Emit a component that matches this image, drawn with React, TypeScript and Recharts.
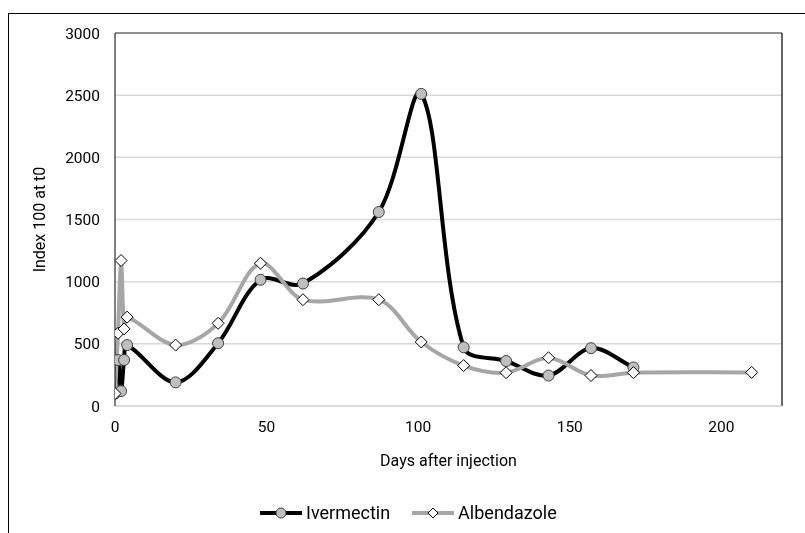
import React from 'react'
import {
  ComposedChart,
  Line,
  XAxis,
  YAxis,
  CartesianGrid,
  ReferenceLine,
} from 'recharts'

// days after injection and index values (100 at t0)
const days = [0, 1, 2, 3, 4, 20, 34, 48, 62, 87, 101, 115, 129, 143, 157, 171, 210]
const ivermectin = [100, 370, 120, 370, 490, 190, 505, 1015, 985, 1560, 2510, 472, 362, 245, 465, 310, null]
const albendazole = [100, 585, 1170, 620, 715, 490, 665, 1148, 855, 855, 515, 325, 268, 388, 245, 268, 270]

const xTicks = [0, 50, 100, 150, 200]
const yTicks = [0, 500, 1000, 1500, 2000, 2500, 3000]

const data = days.map((day, i) => ({
  day,
  ivermectin: ivermectin[i],
  albendazole: albendazole[i],
}))

const FONT = 'Roboto, "Liberation Sans", sans-serif'

// smoothed line: tangent through neighbours, split by segment length
function smoothCurve(context: any) {
  let pts: number[][] = []
  const dist = (a: number[], b: number[]) => Math.hypot(b[0] - a[0], b[1] - a[1])
  const ctrl = (i: number) => {
    const p0 = pts[i - 1] || pts[i]
    const p1 = pts[i]
    const p2 = pts[i + 1] || pts[i]
    const d0 = dist(p0, p1)
    const d1 = dist(p1, p2)
    const s = d0 + d1 || 1
    const tx = p2[0] - p0[0]
    const ty = p2[1] - p0[1]
    return {
      inx: p1[0] - (tx * d0) / s / 3,
      iny: p1[1] - (ty * d0) / s / 3,
      outx: p1[0] + (tx * d1) / s / 3,
      outy: p1[1] + (ty * d1) / s / 3,
    }
  }
  const draw = () => {
    if (!pts.length) return
    context.moveTo(pts[0][0], pts[0][1])
    for (let i = 0; i < pts.length - 1; i++) {
      const a = ctrl(i)
      const b = ctrl(i + 1)
      context.bezierCurveTo(a.outx, a.outy, b.inx, b.iny, pts[i + 1][0], pts[i + 1][1])
    }
  }
  return {
    areaStart() {},
    areaEnd() {},
    lineStart() {
      pts = []
    },
    lineEnd() {
      draw()
    },
    point(x: number, y: number) {
      pts.push([+x, +y])
    },
  }
}

const CircleDot = (props: any) => {
  const { cx, cy, index } = props
  if (cx == null || cy == null || props.value == null) return <g key={`c${index}`} />
  return <circle key={`c${index}`} cx={cx} cy={cy} r={5.5} fill="#bfbfbf" stroke="#404040" strokeWidth={1} />
}

const DiamondDot = (props: any) => {
  const { cx, cy, index } = props
  if (cx == null || cy == null) return <g key={`d${index}`} />
  const s = 6
  return (
    <path
      key={`d${index}`}
      d={`M${cx},${cy - s}L${cx + s},${cy}L${cx},${cy + s}L${cx - s},${cy}Z`}
      fill="#fff"
      stroke="#000"
      strokeWidth={1}
    />
  )
}

const YLabel = (props: any) => {
  const { viewBox } = props
  const x = viewBox.x + 31
  const y = viewBox.y + viewBox.height / 2
  return (
    <text x={x} y={y} transform={`rotate(-90 ${x} ${y})`} textAnchor="middle" dominantBaseline="central" fontSize={16} fill="#000" fontFamily={FONT}>
      Index 100 at t0
    </text>
  )
}

const Legend = () => (
  <div style={{ position: 'absolute', left: 252, top: 494, display: 'flex', alignItems: 'center', fontFamily: FONT, fontSize: 18, color: '#000' }}>
    <svg width={44} height={20}>
      <line x1={0} y1={10} x2={42} y2={10} stroke="#000" strokeWidth={4} />
      <circle cx={21} cy={10} r={5} fill="#bfbfbf" stroke="#404040" strokeWidth={1} />
    </svg>
    <span style={{ marginLeft: 2 }}>Ivermectin</span>
    <svg width={44} height={20} style={{ marginLeft: 22 }}>
      <line x1={0} y1={10} x2={42} y2={10} stroke="#a6a6a6" strokeWidth={4} />
      <path d="M21,5L26,10L21,15L16,10Z" fill="#fff" stroke="#000" strokeWidth={1} />
    </svg>
    <span style={{ marginLeft: 2 }}>Albendazole</span>
  </div>
)

export default function App() {
  return (
    <div style={{ position: 'relative', width: 797, height: 525, overflow: 'hidden', background: '#fff' }}>
      <div style={{ position: 'fixed', left: 8, top: 13, width: 820, height: 560, borderLeft: '1px solid #000', borderTop: '1px solid #000', boxSizing: 'border-box' }} />
      <ComposedChart width={797} height={525} data={data} margin={{ top: 25, right: 23, bottom: 65, left: 0 }}>
        <CartesianGrid horizontal vertical={false} stroke="#d9d9d9" strokeWidth={1.5} />
        <XAxis
          dataKey="day"
          type="number"
          domain={[0, 220]}
          ticks={xTicks}
          allowDataOverflow
          height={62}
          axisLine={{ stroke: '#d9d9d9', strokeWidth: 1.5 }}
          tickLine={false}
          tickSize={0}
          tickMargin={15}
          tick={{ fontSize: 15.5, fill: '#000', fontFamily: FONT }}
          label={{ value: 'Days after injection', position: 'insideBottom', offset: 2, fontSize: 16, fill: '#000', fontFamily: FONT }}
        />
        <YAxis
          type="number"
          domain={[0, 3000]}
          ticks={yTicks}
          width={107}
          axisLine={{ stroke: '#000', strokeWidth: 1 }}
          tickLine={false}
          tickSize={0}
          tickMargin={15}
          tick={{ fontSize: 15.5, fill: '#000', fontFamily: FONT }}
          label={<YLabel />}
        />
        <ReferenceLine y={3000} stroke="#404040" strokeWidth={1.2} />
        <ReferenceLine x={220} stroke="#000" strokeWidth={1.2} />
        <Line
          dataKey="ivermectin"
          type={smoothCurve as any}
          stroke="#000"
          strokeWidth={4}
          dot={CircleDot}
          activeDot={false}
          isAnimationActive={false}
        />
        <Line
          dataKey="albendazole"
          type={smoothCurve as any}
          stroke="#a6a6a6"
          strokeWidth={4}
          dot={DiamondDot}
          activeDot={false}
          isAnimationActive={false}
        />
      </ComposedChart>
      <Legend />
    </div>
  )
}
